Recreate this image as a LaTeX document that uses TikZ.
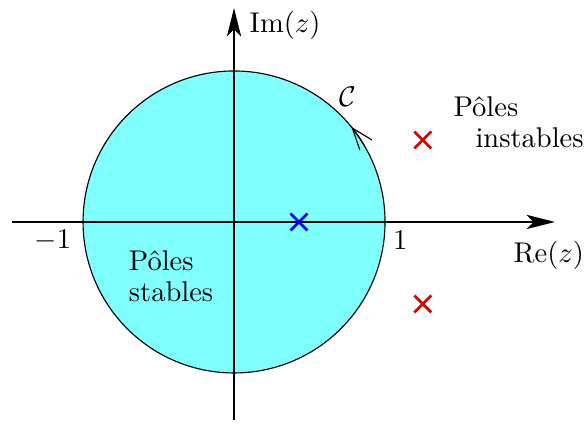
\documentclass[tikz,border=0pt]{standalone}
\usepackage{tikz}
\usetikzlibrary{arrows.meta,shapes.misc,positioning}
\definecolor{disque}{RGB}{128,255,255}
\tikzset{
	axis/.style={-{Stealth[length=10pt,width=5pt,inset=2.5pt]}}, % axes with filled tips
	pole/.style={cross out,draw,line width=0.95pt,minimum size=5pt,inner sep=0pt},
	txt/.style={inner sep=0pt,align=left}
}
\begin{document}
\begin{tikzpicture}[x=1.86cm,y=1.86cm,
            sens/.style={-{Straight Barb[length=7.5pt,width=5.5pt]}}
        ]
            \useasboundingbox (-1.55,-1.338) rectangle (2.331,1.470);
            \coordinate (O) at (0,0);
            \filldraw[fill=disque] (O) circle (1);
            % axes
            \coordinate (xstart) at (-1.47,0);
            \coordinate (xend) at (2.126,0);
            \coordinate (ystart) at (0,-1.31);
            \coordinate (yend) at (0,1.417);
            \draw[axis] (xstart) -- (xend);
            \draw[axis] (ystart) -- (yend);
            \node[txt, anchor=west] (im) at (0.10,1.30) {$\mathrm{Im}(z)$};
            \node[txt] (re) at (2.085,-0.22) {$\mathrm{Re}(z)$};
            \node[txt] (moins) at (-1.2,-0.12) {$-1$};
            \node[txt] (un) at (1.1,-0.12) {$1$};
            % contour
            \draw[sens] (30:1) arc (30:39:1);
            \node[txt] (C) at (0.755,0.83) {$\mathcal{C}$};
            % poles
            \node[pole, draw=blue] (p0) at (0.43,0) {};
            \node[pole, draw=red!85!black] (p1) at (1.25,0.543) {};
            \node[pole, draw=red!85!black] (p2) at (1.25,-0.543) {};
            \node[txt, anchor=west] (inst) at (1.45,0.66) {Pôles\\[-1.3pt]\hspace{7.7pt}instables};
            \node[txt, anchor=west] (stab) at (-0.70,-0.36) {Pôles\\[-1.1pt]stables};
        \end{tikzpicture}
\end{document}
